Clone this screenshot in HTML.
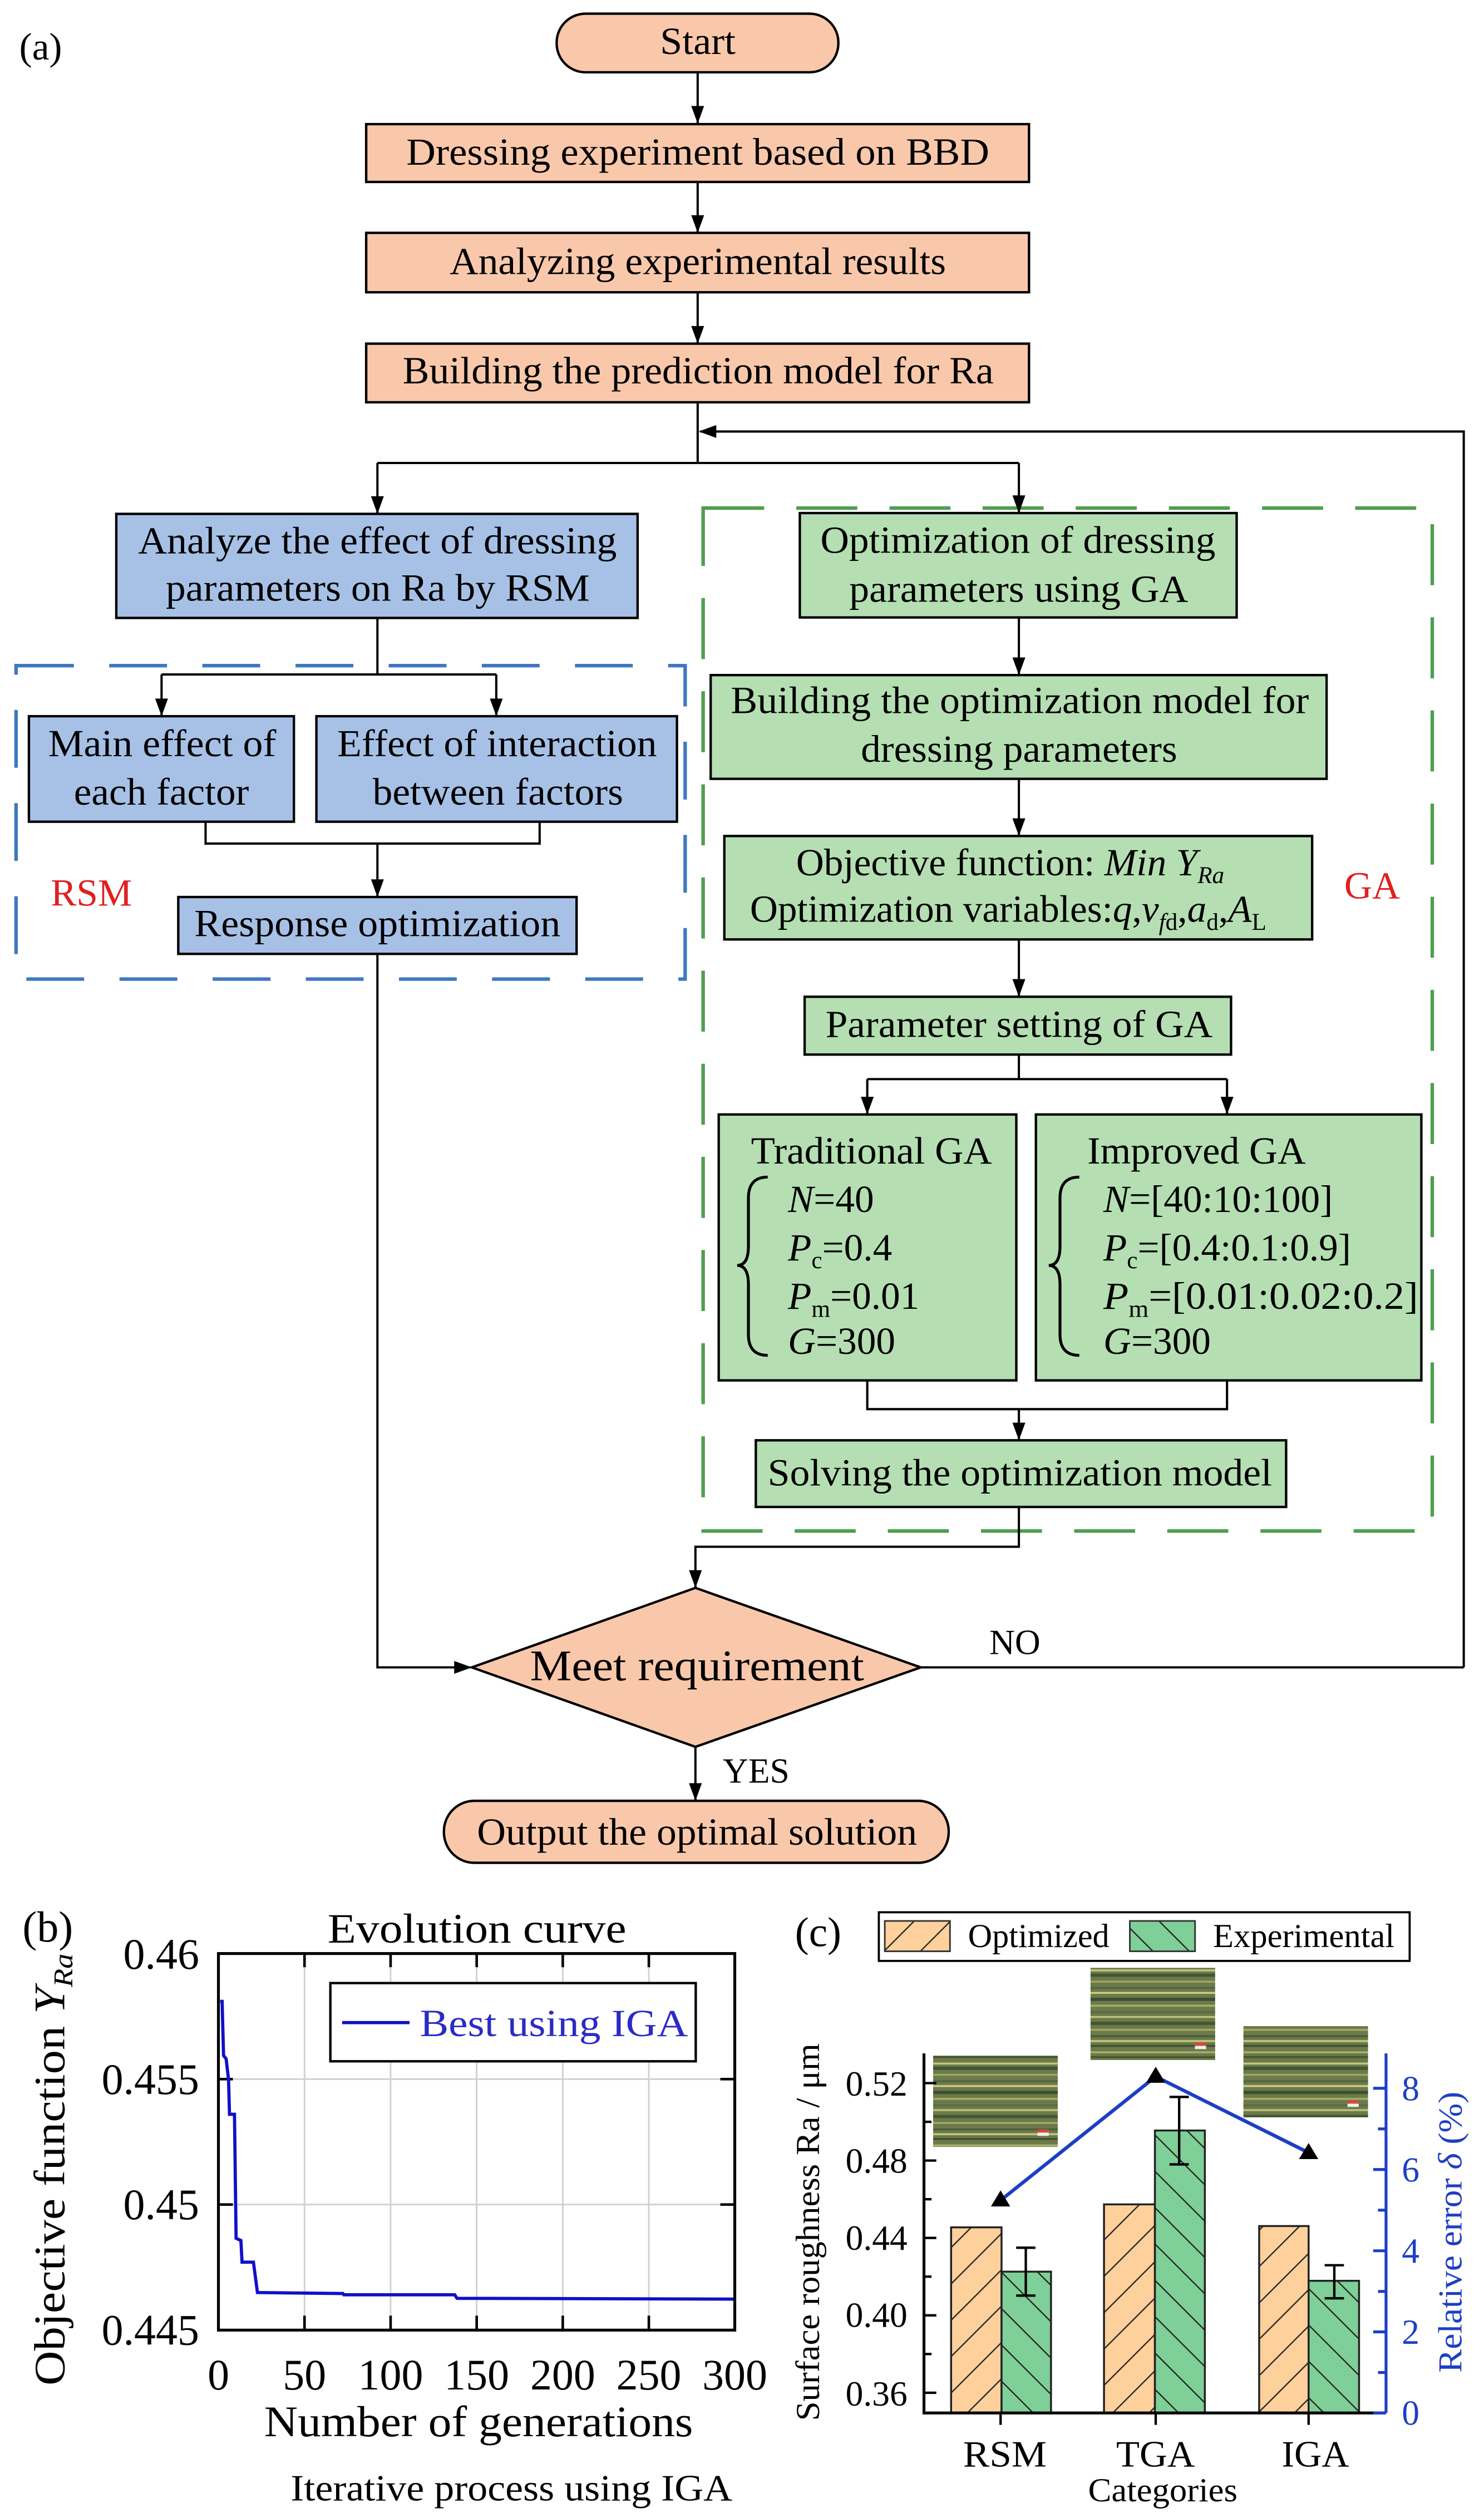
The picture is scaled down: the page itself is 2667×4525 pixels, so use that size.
<!DOCTYPE html>
<html><head><meta charset="utf-8"><style>
html,body{margin:0;padding:0;background:#fff;}
svg{display:block;}
text{font-family:"Liberation Serif",serif;fill:#000;}
</style></head><body>
<svg width="2667" height="4525" viewBox="0 0 924 1568" preserveAspectRatio="none" xmlns="http://www.w3.org/2000/svg">
<defs>
<pattern id="hO" width="16" height="16" patternUnits="userSpaceOnUse" patternTransform="rotate(45)">
<rect width="16" height="16" fill="#fdd09c"/><line x1="0" y1="0" x2="0" y2="16" stroke="#222" stroke-width="1.6"/></pattern>
<pattern id="hG" width="16" height="16" patternUnits="userSpaceOnUse" patternTransform="rotate(-45)">
<rect width="16" height="16" fill="#7fcf98"/><line x1="0" y1="0" x2="0" y2="16" stroke="#222" stroke-width="1.6"/></pattern>
<pattern id="tex" width="78" height="58" patternUnits="userSpaceOnUse">
<rect width="78" height="58" fill="#6c7a4a"/>
<g stroke-width="1.2">
<line x1="0" y1="2" x2="78" y2="2" stroke="#a9b06a"/>
<line x1="0" y1="5" x2="78" y2="5" stroke="#44552f"/>
<line x1="0" y1="9" x2="78" y2="9" stroke="#c6c77e"/>
<line x1="0" y1="12" x2="78" y2="12" stroke="#3f5637" stroke-width="2"/>
<line x1="0" y1="16" x2="78" y2="16" stroke="#9ba763"/>
<line x1="0" y1="20" x2="78" y2="20" stroke="#506641"/>
<line x1="0" y1="23" x2="78" y2="23" stroke="#d2cf88"/>
<line x1="0" y1="27" x2="78" y2="27" stroke="#3b4f33" stroke-width="2"/>
<line x1="0" y1="31" x2="78" y2="31" stroke="#a4ae69"/>
<line x1="0" y1="35" x2="78" y2="35" stroke="#566a45"/>
<line x1="0" y1="38" x2="78" y2="38" stroke="#bfc07a"/>
<line x1="0" y1="42" x2="78" y2="42" stroke="#425733" stroke-width="2"/>
<line x1="0" y1="46" x2="78" y2="46" stroke="#a1ab65"/>
<line x1="0" y1="50" x2="78" y2="50" stroke="#4b5e3b"/>
<line x1="0" y1="53" x2="78" y2="53" stroke="#c9c983"/>
<line x1="0" y1="56" x2="78" y2="56" stroke="#3c5033"/>
</g></pattern>
</defs>

<!-- ========== (a) flowchart ========== -->
<text x="12" y="37" font-size="24">(a)</text>

<g stroke="#000" stroke-width="1.5">
<rect x="346.6" y="8.5" width="175.4" height="36.5" rx="18" fill="#f9c8ab"/>
<rect x="228" y="77.3" width="412.7" height="36" fill="#f9c8ab"/>
<rect x="228" y="145" width="412.7" height="37" fill="#f9c8ab"/>
<rect x="228" y="214" width="412.7" height="36.5" fill="#f9c8ab"/>
<rect x="72.4" y="320" width="324.6" height="64.8" fill="#a7c1e6"/>
<rect x="18" y="446" width="165" height="65.7" fill="#a7c1e6"/>
<rect x="197" y="446" width="224.5" height="65.7" fill="#a7c1e6"/>
<rect x="111" y="558.6" width="248" height="35.4" fill="#a7c1e6"/>
<rect x="498" y="319.5" width="272" height="65" fill="#b5dfb2"/>
<rect x="442.5" y="420.4" width="383.5" height="64.6" fill="#b5dfb2"/>
<rect x="451" y="520.6" width="366" height="64.4" fill="#b5dfb2"/>
<rect x="501" y="620.7" width="265.5" height="36" fill="#b5dfb2"/>
<rect x="447.5" y="694" width="185.3" height="165.6" fill="#b5dfb2"/>
<rect x="645" y="694" width="240" height="165.6" fill="#b5dfb2"/>
<rect x="470.6" y="896.9" width="330.2" height="41.5" fill="#b5dfb2"/>
<polygon points="433,988.8 573.3,1038.3 433,1087.8 293.8,1038.3" fill="#f9c8ab"/>
<rect x="276.4" y="1121.4" width="314.3" height="38.6" rx="19" fill="#f9c8ab"/>
</g>

<!-- dashed groups -->
<rect x="10" y="414.5" width="416.6" height="195.2" fill="none" stroke="#3f78c0" stroke-width="2.2" stroke-dasharray="36 22"/>
<rect x="437.8" y="316.4" width="454" height="637" fill="none" stroke="#4f9e4f" stroke-width="2.2" stroke-dasharray="38 20"/>

<!-- connectors -->
<g stroke="#000" stroke-width="1.4" fill="none">
<path d="M434.4,45 V77"/>
<path d="M434.4,113 V145"/>
<path d="M434.4,182 V214"/>
<path d="M434.4,250.5 V288.3 M235,288.3 H634.4 M235,288.3 V320 M634.4,288.3 V319.5"/>
<path d="M911.4,1038.3 V268.7 H436"/>
<path d="M235,384.8 V420 M100.6,420 H309 M100.6,420 V446 M309,420 V446"/>
<path d="M128,511.7 V525.3 H336 V511.7 M235,525.3 V558.6"/>
<path d="M235,594 V1038.3 H293"/>
<path d="M634.4,384.5 V420.4 M634.4,485 V520.6 M634.4,585 V620.7"/>
<path d="M634.4,656.7 V672 M540,672 H764 M540,672 V694 M764,672 V694"/>
<path d="M540,859.6 V877.5 H764 V859.6 M634.4,877.5 V896.9"/>
<path d="M634.4,938.4 V963.2 H433 V988.8"/>
<path d="M573.3,1038.3 H911.4"/>
<path d="M433,1087.8 V1121.4"/>
</g>
<g fill="#000">
<polygon points="430.4,66 438.4,66 434.4,77"/>
<polygon points="430.4,134 438.4,134 434.4,145"/>
<polygon points="430.4,203 438.4,203 434.4,214"/>
<polygon points="435,268.7 446,264.7 446,272.7"/>
<polygon points="231,309 239,309 235,320"/>
<polygon points="630.4,308.5 638.4,308.5 634.4,319.5"/>
<polygon points="96.6,435 104.6,435 100.6,446"/>
<polygon points="305,435 313,435 309,446"/>
<polygon points="231,547.6 239,547.6 235,558.6"/>
<polygon points="293.8,1038.3 282.8,1034.3 282.8,1042.3"/>
<polygon points="630.4,409.4 638.4,409.4 634.4,420.4"/>
<polygon points="630.4,509.6 638.4,509.6 634.4,520.6"/>
<polygon points="630.4,609.7 638.4,609.7 634.4,620.7"/>
<polygon points="536,683 544,683 540,694"/>
<polygon points="760,683 768,683 764,694"/>
<polygon points="630.4,885.9 638.4,885.9 634.4,896.9"/>
<polygon points="429,977.8 437,977.8 433,988.8"/>
<polygon points="429,1110.4 437,1110.4 433,1121.4"/>
</g>

<!-- flowchart text -->
<g font-size="24" text-anchor="middle">
<text x="434.5" y="33.6" textLength="47" lengthAdjust="spacingAndGlyphs">Start</text>
<text x="434.5" y="102.5" textLength="363" lengthAdjust="spacingAndGlyphs">Dressing experiment  based on BBD</text>
<text x="434.5" y="170.6" textLength="309" lengthAdjust="spacingAndGlyphs">Analyzing experimental results</text>
<text x="434.7" y="238.7" textLength="368" lengthAdjust="spacingAndGlyphs">Building the prediction model for Ra</text>
<text x="235" y="344.7" textLength="298" lengthAdjust="spacingAndGlyphs">Analyze the effect of dressing</text>
<text x="235.2" y="374" textLength="264" lengthAdjust="spacingAndGlyphs">parameters on Ra by RSM</text>
<text x="101" y="471" textLength="142" lengthAdjust="spacingAndGlyphs">Main effect of</text>
<text x="100.5" y="501" textLength="109" lengthAdjust="spacingAndGlyphs">each factor</text>
<text x="309.5" y="471" textLength="199" lengthAdjust="spacingAndGlyphs">Effect of interaction</text>
<text x="310" y="501" textLength="156" lengthAdjust="spacingAndGlyphs">between factors</text>
<text x="235" y="583" textLength="228" lengthAdjust="spacingAndGlyphs">Response optimization</text>
<text x="633.8" y="344.3" textLength="246" lengthAdjust="spacingAndGlyphs">Optimization of dressing</text>
<text x="634.3" y="374.7" textLength="211" lengthAdjust="spacingAndGlyphs">parameters using GA</text>
<text x="635" y="444" textLength="360" lengthAdjust="spacingAndGlyphs">Building the optimization model for</text>
<text x="634.5" y="474.4" textLength="197" lengthAdjust="spacingAndGlyphs">dressing parameters</text>
<text x="634.5" y="645.8" textLength="241" lengthAdjust="spacingAndGlyphs">Parameter setting of GA</text>
<text x="635" y="925" textLength="314" lengthAdjust="spacingAndGlyphs">Solving the optimization model</text>
<text x="434" y="1148.8" textLength="274" lengthAdjust="spacingAndGlyphs">Output the optimal solution</text>
</g>
<text x="434" y="1046.3" font-size="27" text-anchor="middle" textLength="208" lengthAdjust="spacingAndGlyphs">Meet requirement</text>
<text x="616" y="1030" font-size="22">NO</text>
<text x="450" y="1110" font-size="22">YES</text>
<text x="31.6" y="564" font-size="24" fill="#e02020" style="fill:#e02020">RSM</text>
<text x="837" y="559.5" font-size="24" style="fill:#e02020">GA</text>

<text x="495.7" y="545" font-size="24">Objective function: <tspan font-style="italic">Min Y</tspan><tspan font-style="italic" font-size="15" dy="5">Ra</tspan></text>
<text x="467" y="574" font-size="24">Optimization variables:<tspan font-style="italic">q</tspan>,<tspan font-style="italic">v</tspan><tspan font-size="15" dy="5"><tspan font-style="italic">f</tspan>d</tspan><tspan dy="-5">,</tspan><tspan font-style="italic">a</tspan><tspan font-size="15" dy="5">d</tspan><tspan dy="-5">,</tspan><tspan font-style="italic">A</tspan><tspan font-size="15" dy="5">L</tspan></text>

<!-- GA parameter boxes -->
<text x="467.6" y="724.5" font-size="24" textLength="150" lengthAdjust="spacingAndGlyphs">Traditional GA</text>
<text x="677" y="724.5" font-size="24" textLength="136" lengthAdjust="spacingAndGlyphs">Improved GA</text>
<g font-size="24">
<text x="490.6" y="754.7"><tspan font-style="italic">N</tspan>=40</text>
<text x="490.6" y="784.8"><tspan font-style="italic">P</tspan><tspan font-size="15" dy="5">c</tspan><tspan dy="-5">=0.4</tspan></text>
<text x="490.6" y="815"><tspan font-style="italic">P</tspan><tspan font-size="15" dy="5">m</tspan><tspan dy="-5">=0.01</tspan></text>
<text x="490.6" y="843"><tspan font-style="italic">G</tspan>=300</text>
<text x="687" y="754.7"><tspan font-style="italic">N</tspan>=[40:10:100]</text>
<text x="687" y="784.8"><tspan font-style="italic">P</tspan><tspan font-size="15" dy="5">c</tspan><tspan dy="-5">=[0.4:0.1:0.9]</tspan></text>
<text x="687" y="815" textLength="196" lengthAdjust="spacingAndGlyphs"><tspan font-style="italic">P</tspan><tspan font-size="15" dy="5">m</tspan><tspan dy="-5">=[0.01:0.02:0.2]</tspan></text>
<text x="687" y="843"><tspan font-style="italic">G</tspan>=300</text>
</g>
<g fill="none" stroke="#000" stroke-width="1.8">
<path d="M478,733 Q466,733 466,746 L466,776 Q466,788 459,788 Q466,788 466,800 L466,831 Q466,844 478,844"/>
<path d="M672,733 Q660,733 660,746 L660,776 Q660,788 653,788 Q660,788 660,800 L660,831 Q660,844 672,844"/>
</g>

<!-- ========== (b) evolution curve ========== -->
<text x="14" y="1209" font-size="27">(b)</text>
<text x="297" y="1209.7" font-size="26" text-anchor="middle" textLength="186" lengthAdjust="spacingAndGlyphs">Evolution curve</text>
<g stroke="#d0d0d0" stroke-width="1">
<line x1="189.6" y1="1216.5" x2="189.6" y2="1451"/>
<line x1="243.2" y1="1216.5" x2="243.2" y2="1451"/>
<line x1="296.8" y1="1216.5" x2="296.8" y2="1451"/>
<line x1="350.4" y1="1216.5" x2="350.4" y2="1451"/>
<line x1="404" y1="1216.5" x2="404" y2="1451"/>
<line x1="136" y1="1294.7" x2="457.5" y2="1294.7"/>
<line x1="136" y1="1372.8" x2="457.5" y2="1372.8"/>
</g>
<g stroke="#000" stroke-width="1.6">
<line x1="189.6" y1="1216.5" x2="189.6" y2="1225"/><line x1="243.2" y1="1216.5" x2="243.2" y2="1225"/>
<line x1="296.8" y1="1216.5" x2="296.8" y2="1225"/><line x1="350.4" y1="1216.5" x2="350.4" y2="1225"/>
<line x1="404" y1="1216.5" x2="404" y2="1225"/>
<line x1="189.6" y1="1451" x2="189.6" y2="1442"/><line x1="243.2" y1="1451" x2="243.2" y2="1442"/>
<line x1="296.8" y1="1451" x2="296.8" y2="1442"/><line x1="350.4" y1="1451" x2="350.4" y2="1442"/>
<line x1="404" y1="1451" x2="404" y2="1442"/>
<line x1="136" y1="1294.7" x2="145" y2="1294.7"/><line x1="136" y1="1372.8" x2="145" y2="1372.8"/>
<line x1="457.5" y1="1294.7" x2="448.5" y2="1294.7"/><line x1="457.5" y1="1372.8" x2="448.5" y2="1372.8"/>
</g>
<polyline fill="none" stroke="#1010c8" stroke-width="2" points="137.1,1246.3 138.3,1246.3 139.2,1280.1 140.8,1282 142.3,1295 142.9,1316.6 146,1316.6 147,1393.8 150,1395.2 150.7,1408.7 157.8,1408.7 160.3,1427.6 213.5,1428.2 214.1,1429 283.1,1429 284.6,1431.2 457.5,1431.7"/>
<rect x="136" y="1216.5" width="321.5" height="234.5" fill="none" stroke="#000" stroke-width="1.8"/>
<rect x="205.7" y="1234.9" width="227.5" height="48.7" fill="#fff" stroke="#000" stroke-width="1.5"/>
<line x1="213" y1="1259.5" x2="255" y2="1259.5" stroke="#1010c8" stroke-width="2"/>
<text x="261.4" y="1268" font-size="24" style="fill:#2b2bc4" textLength="167" lengthAdjust="spacingAndGlyphs">Best using IGA</text>
<g font-size="27" text-anchor="end">
<text x="124" y="1226">0.46</text>
<text x="124" y="1304">0.455</text>
<text x="124" y="1382">0.45</text>
<text x="124" y="1460">0.445</text>
</g>
<g font-size="27" text-anchor="middle">
<text x="136" y="1488">0</text><text x="189.6" y="1488">50</text><text x="243.2" y="1488">100</text>
<text x="296.8" y="1488">150</text><text x="350.4" y="1488">200</text><text x="404" y="1488">250</text>
<text x="457.5" y="1488">300</text>
</g>
<text x="298" y="1517" font-size="27" text-anchor="middle" textLength="267" lengthAdjust="spacingAndGlyphs">Number of generations</text>
<text x="318.5" y="1557" font-size="23" text-anchor="middle" textLength="275" lengthAdjust="spacingAndGlyphs">Iterative process using IGA</text>
<text transform="translate(40,1351) rotate(-90)" font-size="27" text-anchor="middle" textLength="269" lengthAdjust="spacingAndGlyphs">Objective function <tspan font-style="italic">Y</tspan><tspan font-style="italic" font-size="17" dy="5">Ra</tspan></text>

<!-- ========== (c) bar chart ========== -->
<text x="495" y="1212" font-size="26">(c)</text>
<rect x="547.2" y="1190.8" width="330.5" height="30.3" fill="#fff" stroke="#000" stroke-width="1.3"/>
<rect x="550.9" y="1196.2" width="40.6" height="18.9" fill="url(#hO)" stroke="#333" stroke-width="1"/>
<rect x="703.5" y="1196.2" width="40.6" height="18.9" fill="url(#hG)" stroke="#333" stroke-width="1"/>
<text x="602.7" y="1212.4" font-size="21" textLength="88" lengthAdjust="spacingAndGlyphs">Optimized</text>
<text x="755.3" y="1212.4" font-size="21" textLength="113" lengthAdjust="spacingAndGlyphs">Experimental</text>

<!-- bars -->
<g stroke="#222" stroke-width="1.2">
<rect x="592.2" y="1387" width="31.4" height="115.6" fill="url(#hO)"/>
<rect x="623.6" y="1414.6" width="30.8" height="88" fill="url(#hG)"/>
<rect x="687.4" y="1372.7" width="31.7" height="129.9" fill="url(#hO)"/>
<rect x="719.1" y="1326.7" width="31.1" height="175.9" fill="url(#hG)"/>
<rect x="784" y="1386.2" width="30.8" height="116.4" fill="url(#hO)"/>
<rect x="814.8" y="1420.3" width="31.4" height="82.3" fill="url(#hG)"/>
</g>
<g stroke="#000" stroke-width="1.5" fill="none">
<path d="M638.7,1399.7 V1429.5 M632.7,1399.7 H644.7 M632.7,1429.5 H644.7"/>
<path d="M734.2,1305.8 V1347.8 M728.2,1305.8 H740.2 M728.2,1347.8 H740.2"/>
<path d="M830.8,1410.6 V1431.2 M824.8,1410.6 H836.8 M824.8,1431.2 H836.8"/>
</g>
<!-- images -->
<rect x="581" y="1280.1" width="77.6" height="56.8" fill="url(#tex)"/>
<rect x="679" y="1225.4" width="77.6" height="57.4" fill="url(#tex)"/>
<rect x="774.2" y="1261.7" width="77.6" height="56.8" fill="url(#tex)"/>
<g fill="#d44a3a"><rect x="646" y="1326" width="7" height="2"/><rect x="744" y="1272" width="7" height="2"/><rect x="839" y="1308" width="7" height="2"/></g>
<g fill="#f0f0f0"><rect x="646" y="1328" width="7" height="2"/><rect x="744" y="1274" width="7" height="2"/><rect x="839" y="1310" width="7" height="2"/></g>
<!-- line + triangles -->
<polyline points="623,1370.2 719.6,1293.1 814.8,1340.5" fill="none" stroke="#1d3fc4" stroke-width="2.2"/>
<g fill="#000">
<polygon points="623,1364 617,1374 629,1374"/>
<polygon points="719.6,1287 713.6,1297 725.6,1297"/>
<polygon points="814.8,1334.5 808.8,1344.5 820.8,1344.5"/>
</g>
<!-- axes -->
<g stroke="#000" stroke-width="1.8" fill="none">
<path d="M575.3,1278.7 V1502.6 H863"/>
</g>
<g stroke="#000" stroke-width="1.5">
<line x1="575.3" y1="1297.2" x2="583" y2="1297.2"/>
<line x1="575.3" y1="1345.4" x2="583" y2="1345.4"/>
<line x1="575.3" y1="1393.6" x2="583" y2="1393.6"/>
<line x1="575.3" y1="1441.8" x2="583" y2="1441.8"/>
<line x1="575.3" y1="1490" x2="583" y2="1490"/>
<line x1="575.3" y1="1321.3" x2="580" y2="1321.3"/>
<line x1="575.3" y1="1369.5" x2="580" y2="1369.5"/>
<line x1="575.3" y1="1417.7" x2="580" y2="1417.7"/>
<line x1="575.3" y1="1465.9" x2="580" y2="1465.9"/>
<line x1="623" y1="1502.6" x2="623" y2="1510"/>
<line x1="719.6" y1="1502.6" x2="719.6" y2="1510"/>
<line x1="814.8" y1="1502.6" x2="814.8" y2="1510"/>
</g>
<g stroke="#1d3fc4" stroke-width="1.8">
<line x1="863" y1="1278.7" x2="863" y2="1502.6"/>
<line x1="863" y1="1502.6" x2="855" y2="1502.6"/>
<line x1="863" y1="1452.1" x2="855" y2="1452.1"/>
<line x1="863" y1="1401.6" x2="855" y2="1401.6"/>
<line x1="863" y1="1351" x2="855" y2="1351"/>
<line x1="863" y1="1300.4" x2="855" y2="1300.4"/>
<line x1="863" y1="1477.4" x2="858" y2="1477.4"/>
<line x1="863" y1="1426.9" x2="858" y2="1426.9"/>
<line x1="863" y1="1376.3" x2="858" y2="1376.3"/>
<line x1="863" y1="1325.7" x2="858" y2="1325.7"/>
</g>
<g font-size="22" text-anchor="end">
<text x="565" y="1305">0.52</text>
<text x="565" y="1353">0.48</text>
<text x="565" y="1401">0.44</text>
<text x="565" y="1449">0.40</text>
<text x="565" y="1498">0.36</text>
</g>
<g font-size="22" style="fill:#1d3fc4">
<text x="872.8" y="1510" style="fill:#1d3fc4">0</text>
<text x="872.8" y="1459.6" style="fill:#1d3fc4">2</text>
<text x="872.8" y="1409" style="fill:#1d3fc4">4</text>
<text x="872.8" y="1358.5" style="fill:#1d3fc4">6</text>
<text x="872.8" y="1308" style="fill:#1d3fc4">8</text>
</g>
<g font-size="23" text-anchor="middle">
<text x="625.7" y="1535.9" textLength="52" lengthAdjust="spacingAndGlyphs">RSM</text>
<text x="719.5" y="1535.9" textLength="49" lengthAdjust="spacingAndGlyphs">TGA</text>
<text x="819" y="1535.9" textLength="42" lengthAdjust="spacingAndGlyphs">IGA</text>
</g>
<text x="724" y="1557.6" font-size="21" text-anchor="middle" textLength="93" lengthAdjust="spacingAndGlyphs">Categories</text>
<text transform="translate(510,1390) rotate(-90)" font-size="21" text-anchor="middle" textLength="235" lengthAdjust="spacingAndGlyphs">Surface roughness Ra / μm</text>
<text transform="translate(910,1390) rotate(-90)" font-size="21" text-anchor="middle" style="fill:#1d3fc4" textLength="175" lengthAdjust="spacingAndGlyphs">Relative error <tspan font-style="italic">δ</tspan> (%)</text>
</svg>
</body></html>
